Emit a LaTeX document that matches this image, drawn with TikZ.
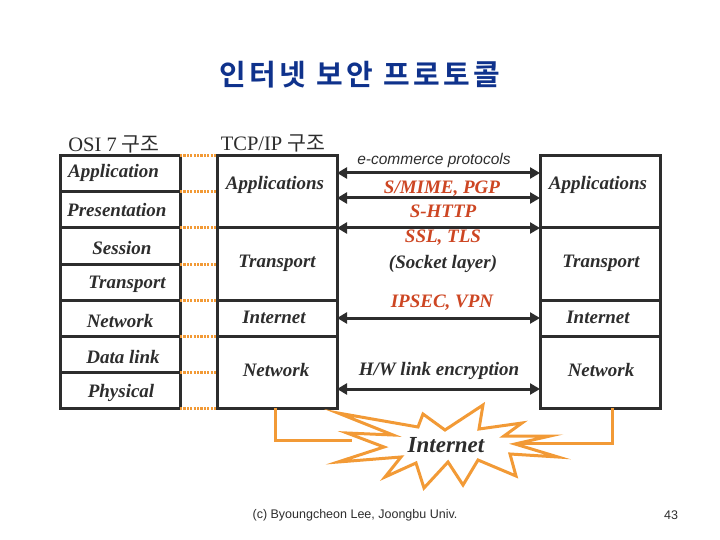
\documentclass[tikz,border=0pt]{standalone}
\usepackage{fontspec}
\setmainfont{Liberation Serif}
\setsansfont{Liberation Sans}
\newfontfamily\kr{Noto Sans CJK KR}[BoldFont={Noto Sans CJK KR Bold}]
\newfontfamily\krtitle{Noto Sans CJK KR Bold}[LetterSpace=12]
\usetikzlibrary{arrows.meta}
\definecolor{dk}{RGB}{45,45,45}
\definecolor{org}{RGB}{242,154,54}
\definecolor{secred}{RGB}{205,70,35}
\definecolor{ttl}{RGB}{15,50,140}
\begin{document}
\begin{tikzpicture}[x=1pt,y=-1pt,
  box/.style={draw=dk, line width=3pt, minimum width=120pt, inner sep=0pt, outer sep=0pt},
  lay/.style={font=\fontsize{19}{21}\selectfont\bfseries\itshape, text=dk, inner sep=0pt},
  sec/.style={font=\fontsize{19}{21}\selectfont\bfseries\itshape, text=secred, inner sep=0pt},
  arr/.style={draw=dk, line width=3pt, {Triangle[length=10pt,width=11pt]}-{Triangle[length=10pt,width=11pt]}},
  dotc/.style={draw=org, line width=3pt, dash pattern=on 2.2pt off 1.2pt},
  orl/.style={draw=org, line width=3pt},
  hdr/.style={font=\fontsize{20.5}{22}\selectfont, text=dk, inner sep=0pt}]
\useasboundingbox (0,0) rectangle (720,540);
% title
\node[font=\krtitle\fontsize{29}{32}\selectfont, text=ttl] (title) at (360,75) {인터넷 보안 프로토콜};
% headers
\node[hdr] (hosi) at (114,144) {OSI 7 {\kr 구조}};
\node[hdr] (htcp) at (273,143) {TCP/IP {\kr 구조}};
% OSI cells
\node[box, minimum height=36pt] (o1) at (120,174) {};
\node[box, minimum height=36pt] (o2) at (120,210) {};
\node[box, minimum height=36pt] (o3) at (120,246) {};
\node[box, minimum height=36pt] (o4) at (120,282) {};
\node[box, minimum height=36pt] (o5) at (120,318) {};
\node[box, minimum height=36pt] (o6) at (120,354) {};
\node[box, minimum height=36pt] (o7) at (120,390) {};
\node[lay, anchor=west] (lo1) at (68,173) {Application};
\node[lay, anchor=west] (lo2) at (67,210) {Presentation};
\node[lay] (lo3) at (122,248) {Session};
\node[lay] (lo4) at (127,284) {Transport};
\node[lay] (lo5) at (120,321) {Network};
\node[lay] (lo6) at (123,357) {Data link};
\node[lay] (lo7) at (121,393) {Physical};
% TCP/IP cells
\node[box, minimum height=72pt] (t1) at (277,192) {};
\node[box, minimum height=72pt] (t2) at (277,264) {};
\node[box, minimum height=36pt] (t3) at (277,318) {};
\node[box, minimum height=72pt] (t4) at (277,372) {};
\node[lay] (lt1) at (275,185) {Applications};
\node[lay] (lt2) at (277,263) {Transport};
\node[lay] (lt3) at (274,317) {Internet};
\node[lay] (lt4) at (276,370) {Network};
% right cells
\node[box, minimum height=72pt] (r1) at (600,192) {};
\node[box, minimum height=72pt] (r2) at (600,264) {};
\node[box, minimum height=36pt] (r3) at (600,318) {};
\node[box, minimum height=72pt] (r4) at (600,372) {};
\node[lay] (lr1) at (598,185) {Applications};
\node[lay] (lr2) at (601,263) {Transport};
\node[lay] (lr3) at (598,317) {Internet};
\node[lay] (lr4) at (601,370) {Network};
% dotted links
\foreach \a in {o1.north east,o2.north east,o3.north east,o4.north east,o5.north east,o6.north east,o7.north east,o7.south east}
  \draw[dotc] (\a) -- (\a -| t1.west);
% arrows
\draw[arr] (t1.east |- 0,173) -- (r1.west |- 0,173);
\draw[arr] (t1.east |- 0,198) -- (r1.west |- 0,198);
\draw[arr] (t1.east |- 0,228) -- (r1.west |- 0,228);
\draw[arr] (t3.east) -- (r3.west);
\draw[arr] (t4.east |- 0,389) -- (r4.west |- 0,389);
% protocol labels
\node[font=\sffamily\itshape\fontsize{15.5}{17}\selectfont, text=dk] (ecom) at (434,160) {e-commerce protocols};
\node[sec] (smime) at (442,189) {S/MIME, PGP};
\node[sec] (shttp) at (443,211) {S-HTTP};
\node[sec] (ssl) at (443,238) {SSL, TLS};
\node[lay] (sock) at (443,264) {(Socket layer)};
\node[sec] (ipsec) at (442,303) {IPSEC, VPN};
\node[lay] (hw) at (439,371) {H/W link encryption};
% connectors to internet
\coordinate (lc) at (352,440);
\coordinate (rc) at (515,443);
\draw[orl] (t4.south -| 275,0) |- (lc);
\draw[orl] (r4.south -| 612,0) |- (rc);
% star
\draw[org, line width=3pt, line join=miter, fill=white]
  (338,413) -- (418,427) -- (423,414) -- (445,430) -- (483,405) -- (479,429)
  -- (522,423) -- (504,436) -- (550,436) -- (515,444) -- (558,457) -- (510,454)
  -- (516,476) -- (478,460) -- (463,485) -- (448,462) -- (424,488) -- (416,463)
  -- (385,477) -- (401,457) -- (338,462) -- (384,447) -- (347,433) -- (393,435) -- cycle;
\node[font=\fontsize{23}{25}\selectfont\bfseries\itshape, text=dk] (inet) at (446,445) {Internet};
% footer
\node[font=\sffamily\fontsize{12.5}{14}\selectfont, text=dk] (foot) at (355,515) {(c) Byoungcheon Lee, Joongbu Univ.};
\node[font=\sffamily\fontsize{12.5}{14}\selectfont, text=dk] (page) at (671,515) {43};
\end{tikzpicture}
\end{document}
